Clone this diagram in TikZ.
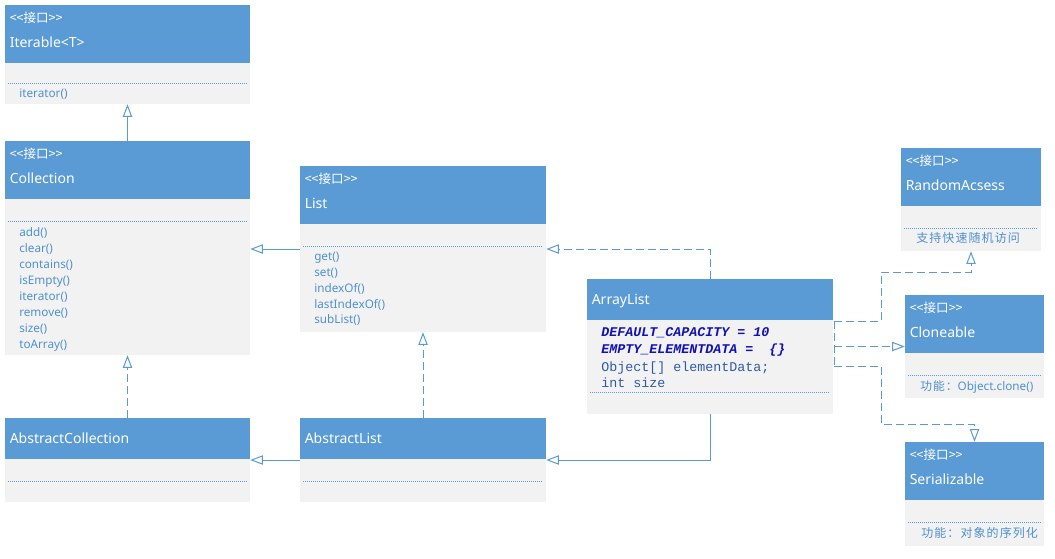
\documentclass[tikz,border=0pt]{standalone}
\usepackage{fontspec}
\setmainfont{Noto Sans}
\newfontfamily\cjk{Noto Sans CJK SC}
\newfontfamily\cjkls[LetterSpace=9]{Noto Sans CJK SC}
\newfontfamily\monofam{Liberation Mono}
\usetikzlibrary{arrows.meta,fit,calc}
\definecolor{hblue}{HTML}{5B9BD5}
\definecolor{bgray}{HTML}{F2F2F2}
\definecolor{mtext}{HTML}{4F91D0}
\definecolor{kblue}{HTML}{1212B4}
\definecolor{ftext}{HTML}{2E5AA8}
\tikzset{
  body/.style={fill=bgray, draw=none, inner sep=0pt},
  head/.style={fill=hblue, draw=none, inner sep=0pt},
  stereo/.style={text=white, font=\cjk\fontsize{9.4}{10}\selectfont, inner sep=0pt, anchor=base west},
  cname/.style={text=white, font=\fontsize{10.5}{12}\selectfont, inner sep=0pt, anchor=base west},
  meth/.style={text=mtext, font=\fontsize{8.8}{10}\selectfont, inner sep=0pt, anchor=base west},
  note/.style={text=mtext, font=\cjkls\fontsize{9}{10}\selectfont, inner sep=0pt, anchor=base west},
  kfield/.style={text=kblue, font=\monofam\bfseries\itshape\fontsize{10}{12}\selectfont, inner sep=0pt, anchor=base west},
  field/.style={text=ftext, font=\monofam\fontsize{10}{12}\selectfont, inner sep=0pt, anchor=base west},
  sepline/.style={draw=hblue, densely dotted, line width=0.5pt},
  gen/.style={draw=hblue, line width=0.75pt, -{Triangle[open, length=9.5pt, width=7pt]}},
  real/.style={gen, dash pattern=on 6pt off 3pt},
}
\newcommand\stereotxt{<\kern0pt<接口>\kern0pt>}
\begin{document}
\begin{tikzpicture}[x=0.75pt, y=-0.75pt]
\fill[white] (0,0) rectangle (1055,558);
\useasboundingbox (0,0) rectangle (1055,558);

% Iterable
\node[body, fit={(5,5)(250,104)}] (it) {};
\node[head, fit={(5,5)(250,63)}] (itH) {};
\node[stereo] (itS) at (9.5,22.5) {\stereotxt};
\node[cname] (itN) at (9.5,47) {Iterable<T>};
\draw[sepline] (8,83) -- (247,83);
\node[meth] (itM1) at (19,97) {iterator()};

% Collection
\node[body, fit={(5,141)(250,355)}] (co) {};
\node[head, fit={(5,141)(250,199)}] (coH) {};
\node[stereo] (coS) at (9.5,158.5) {\stereotxt};
\node[cname] (coN) at (9.5,183) {Collection};
\draw[sepline] (8,221) -- (247,221);
\foreach \t [count=\i] in {add(),clear(),contains(),isEmpty(),iterator(),remove(),size(),toArray()}
  \node[meth] (coM\i) at (19,{236+16*(\i-1)}) {\t};

% List
\node[body, fit={(300,166)(546,332)}] (li) {};
\node[head, fit={(300,166)(546,224)}] (liH) {};
\node[stereo] (liS) at (304.5,183.5) {\stereotxt};
\node[cname] (liN) at (304.5,208) {List};
\draw[sepline] (303,246) -- (543,246);
\foreach \t [count=\i] in {get(),set(),indexOf(),lastIndexOf(),subList()}
  \node[meth] (liM\i) at (314,{260.5+15.85*(\i-1)}) {\t};

% ArrayList
\node[body, fit={(587,279)(833,414)}] (al) {};
\node[head, fit={(587,279)(833,320)}] (alH) {};
\node[cname] (alN) at (591.5,304) {ArrayList};
\node[kfield] (alF1) at (601,336) {DEFAULT\_CAPACITY = 10};
\node[kfield] (alF2) at (601,353.5) {EMPTY\_ELEMENTDATA =~~\{\}};
\node[field] (alF3) at (601,371) {Object[] elementData;};
\node[field] (alF4) at (601,387) {int size};
\draw[sepline] (590,392) -- (830,392);

% RandomAcsess
\node[body, fit={(901,148)(1041,251)}] (ra) {};
\node[head, fit={(901,148)(1041,206)}] (raH) {};
\node[stereo] (raS) at (905.5,165.5) {\stereotxt};
\node[cname] (raN) at (905.5,190) {RandomAcsess};
\draw[sepline] (904,228) -- (1038,228);
\node[note] (raT) at (916,242.5) {支持快速随机访问};

% Cloneable
\node[body, fit={(905,295)(1044,398)}] (cl) {};
\node[head, fit={(905,295)(1044,353)}] (clH) {};
\node[stereo] (clS) at (909.5,312.5) {\stereotxt};
\node[cname] (clN) at (909.5,337) {Cloneable};
\draw[sepline] (908,375) -- (1041,375);
\node[meth] (clT) at (920,390.5) {{\cjkls 功能：}Object.clone()};

% Serializable
\node[body, fit={(905,442)(1044,546)}] (se) {};
\node[head, fit={(905,442)(1044,500)}] (seH) {};
\node[stereo] (seS) at (909.5,459.5) {\stereotxt};
\node[cname] (seN) at (909.5,484) {Serializable};
\draw[sepline] (908,522) -- (1041,522);
\node[note] (seT) at (921,537) {功能：对象的序列化};

% AbstractCollection
\node[body, fit={(5,418)(250,502)}] (ac) {};
\node[head, fit={(5,418)(250,459)}] (acH) {};
\node[cname] (acN) at (9.5,443) {AbstractCollection};
\draw[sepline] (8,481) -- (247,481);

% AbstractList
\node[body, fit={(300,418)(546,502)}] (alst) {};
\node[head, fit={(300,418)(546,459)}] (alstH) {};
\node[cname] (alstN) at (304.5,443) {AbstractList};
\draw[sepline] (303,481) -- (543,481);

% connectors
\draw[gen] (co.north) -- (it.south);
\draw[gen] (li.west) -- (li.west -| co.east);
\draw[real] (al.north) |- (li.east);
\draw[gen] (al.south) |- (alst.east);
\draw[gen] (alst.west) -- (ac.east);
\draw[real] (ac.north) -- (co.south);
\draw[real] (alst.north) -- (li.south);
\coordinate (o1) at (834,321);
\coordinate (o3) at (834,366);
\coordinate (b1) at (881,272);
\coordinate (b3) at (881,424);
\draw[real, -] (o1) -- (o3);
\draw[real] (o1) -| (b1) -| (ra.south);
\draw[real] (cl.west -| o1) -- (cl.west);
\draw[real] (o3) -| (b3) -| (se.north);
\end{tikzpicture}
\end{document}
